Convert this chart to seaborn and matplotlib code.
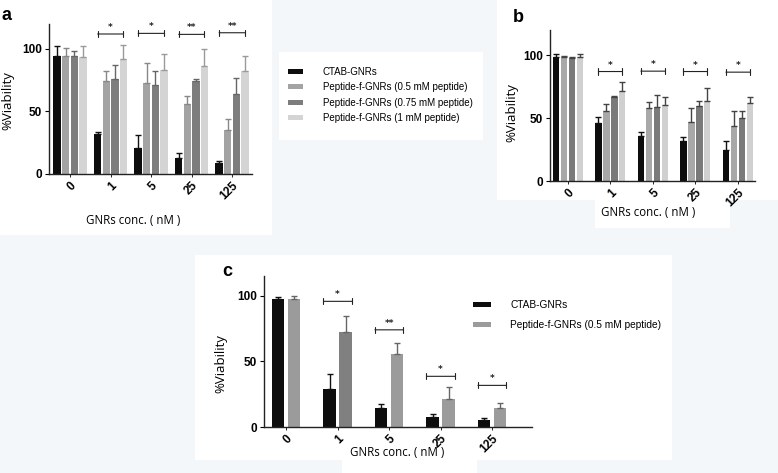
import numpy as np
import pandas as pd
import matplotlib
matplotlib.use("Agg")
import matplotlib.pyplot as plt
import seaborn as sns
from matplotlib.patches import Rectangle, Patch

# ---- data ----
conc = ["0", "1", "5", "25", "125"]
groups4 = ["CTAB-GNRs", "Peptide-f-GNRs (0.5 mM peptide)",
           "Peptide-f-GNRs (0.75 mM peptide)", "Peptide-f-GNRs (1 mM peptide)"]
groups2 = groups4[:2]

# panel a: means and upper error
a_ctab = [94, 32, 20.5, 13, 8.5]
a_ctab_err = [8.5, 1.5, 10.5, 3.5, 2.2]
a_p05 = [94, 74.7, 72.8, 55.7, 35.5]
a_p05_err = [6.5, 7.3, 16.2, 7, 8.2]
a_p075 = [94, 76.3, 71, 74.7, 63.7]
a_p075_err = [4, 11.2, 11.7, 1.6, 13.1]
a_p1 = [93.3, 91.7, 83.5, 86.7, 82.7]
a_p1_err = [8.7, 11.3, 12.8, 13, 11.3]
a_sig_y = [112, 112.5, 111.7, 113]
a_sig = ["*", "*", "**", "**"]

# panel b
b_ctab = [98.7, 45.8, 36, 32, 24.6]
b_ctab_err = [2.1, 5.2, 2.6, 3, 7.4]
b_p05 = [98.7, 55.6, 58, 46.8, 43.7]
b_p05_err = [0.6, 5.5, 4.7, 10.9, 11.9]
b_p075 = [97.9, 66.7, 59, 59.5, 50.3]
b_p075_err = [0.5, 0.5, 9.3, 4, 5.5]
b_p1 = [98.7, 71.7, 60.6, 63.8, 61.6]
b_p1_err = [2.1, 7.1, 5.8, 10, 5.4]
b_sig_y = [87, 87.3, 87, 86.5]
b_sig = ["*", "*", "*", "*"]

# panel c
c_ctab = [97.5, 29.2, 14.2, 7.4, 5.1]
c_ctab_err = [1.2, 11.4, 3.3, 2.8, 1.5]
c_p05 = [97.5, 72.6, 55.6, 21.1, 14.2]
c_p05_err = [2.5, 11.9, 8.1, 9.1, 4.1]
c_sig_y = [95.7, 74, 38.6, 31.7]
c_sig = ["*", "**", "*", "*"]

W, H = 778, 473
BG = "#f3f7fa"
fig = plt.figure(figsize=(W / 100, H / 100), dpi=100, facecolor=BG)

# white panels behind each plot (pixel boxes)
for x0, y0, x1, y1 in [(0, 0, 272, 235), (279, 52, 483, 140), (497, 0, 778, 200),
                       (595, 200, 730, 228), (195, 255, 672, 460), (342, 455, 477, 473)]:
    fig.patches.append(Rectangle((x0 / W, 1 - y1 / H), (x1 - x0) / W, (y1 - y0) / H,
                                 transform=fig.transFigure, facecolor="white",
                                 edgecolor="none", zorder=-5))

TICKFONT = "Liberation Sans"
LABFONT = "Open Sans"


def panel(rect, xlim, ylim, vals, errs, names, colors, ecolors, width, gap,
          sig_y, sig, span, ylab_xy, xlab_xy):
    left, top, bottom, ppu = rect
    wpx = (xlim[1] - xlim[0]) * ppu
    ax = fig.add_axes([left / W, 1 - bottom / H, wpx / W, (bottom - top) / H])
    ax.set_facecolor("none")
    rows = []
    for name, v in zip(names, vals):
        for c, y in zip(conc, v):
            rows.append({"conc": c, "group": name, "viability": y})
    df = pd.DataFrame(rows)
    sns.barplot(data=df, x="conc", y="viability", hue="group", order=conc,
                hue_order=names, palette=colors, width=width, gap=gap,
                errorbar=None, legend=False, saturation=1, ax=ax)
    bars = list(ax.containers)
    for cont, e, ec in zip(bars, errs, ecolors):
        xs = [b.get_x() + b.get_width() / 2 for b in cont]
        ys = [b.get_height() for b in cont]
        ax.errorbar(xs, ys, yerr=[np.zeros(len(e)), e], fmt="none", ecolor=ec,
                    elinewidth=1, capsize=2, capthick=1, zorder=1)
    # significance brackets over groups 1..125
    for j, (yy, s) in enumerate(zip(sig_y, sig), start=1):
        b0 = bars[0][j]
        b1 = bars[-1][j]
        if span == "center":
            x0 = b0.get_x() + b0.get_width() / 2
            x1 = b1.get_x() + b1.get_width() / 2
        else:
            x0 = b0.get_x()
            x1 = b1.get_x() + b1.get_width()
        ax.annotate("", xy=(x0, yy), xytext=(x1, yy),
                    arrowprops=dict(arrowstyle="|-|, widthA=0.22, widthB=0.22",
                                    lw=0.8, color="#222", shrinkA=0, shrinkB=0))
        ax.text((x0 + x1) / 2, yy + 1.5, s, ha="center", va="bottom",
                fontsize=6.5, fontweight="bold", color="#222")
    ax.set_xlim(*xlim)
    ax.set_ylim(*ylim)
    ax.set_yticks([0, 50, 100])
    ax.set_yticklabels(["0", "50", "100"], fontsize=8.5, fontweight="bold",
                       family=TICKFONT)
    ax.set_xticks(range(len(conc)))
    ax.set_xticklabels(conc, rotation=45, ha="right", rotation_mode="anchor",
                       fontsize=8.5, fontweight="bold", family=TICKFONT)
    ax.tick_params(axis="y", length=3, width=0.8, pad=2)
    ax.tick_params(axis="x", length=2, width=0.6, pad=2)
    for sp in ["top", "right"]:
        ax.spines[sp].set_visible(False)
    for sp in ["left", "bottom"]:
        ax.spines[sp].set_linewidth(1)
        ax.spines[sp].set_color("#222")
    ax.set_ylabel("%Viability", fontsize=9.5, family=LABFONT)
    ax.set_xlabel("GNRs conc. ( nM )", fontsize=8.3, family=LABFONT)
    ax.yaxis.set_label_coords(*ylab_xy)
    ax.xaxis.set_label_coords(*xlab_xy)
    return ax, bars


cols4 = ["#0d0d0d", "#a3a3a3", "#7d7d7d", "#d4d4d4"]

ax_a, _ = panel((49, 24, 174, 40.5), (-0.52, 4.5), (0, 120),
                [a_ctab, a_p05, a_p075, a_p1], [a_ctab_err, a_p05_err, a_p075_err, a_p1_err],
                groups4, cols4, ["#111", "#888", "#666", "#9a9a9a"], 0.85, 0.15,
                a_sig_y, a_sig, "center", (-0.172, 0.49), (0.414, -0.267))

ax_b, _ = panel((550, 30, 181, 42.5), (-0.42, 4.4), (0, 120),
                [b_ctab, b_p05, b_p075, b_p1], [b_ctab_err, b_p05_err, b_p075_err, b_p1_err],
                groups4, ["#0d0d0d", "#a8a8a8", "#7a7a7a", "#d0d0d0"],
                ["#111", "#444", "#444", "#444"], 0.75, 0.2,
                b_sig_y, b_sig, "center", (-0.156, 0.45), (0.48, -0.166))

ax_c, bars_c = panel((264, 276, 427, 51.5), (-0.43, 4.78), (0, 115),
                     [c_ctab, c_p05], [c_ctab_err, c_p05_err],
                     groups2, ["#0d0d0d", "#9b9b9b"], ["#111", "#666"], 0.62, 0.22,
                     c_sig_y, c_sig, "edge", (-0.138, 0.42), (0.496, -0.126))
bars_c[1][1].set_facecolor("#808080")

# legends
fig.legend(handles=[Patch(facecolor=c, edgecolor="none") for c in cols4], labels=groups4,
           loc="upper left", bbox_to_anchor=(288 / W, 1 - 67 / H), frameon=False,
           borderpad=0, borderaxespad=0, handlelength=1.55, handleheight=0.45,
           handletextpad=2.0, labelspacing=0.55,
           prop={"family": TICKFONT, "size": 7})
fig.legend(handles=[Patch(facecolor=c, edgecolor="none") for c in ["#0d0d0d", "#9b9b9b"]],
           labels=groups2, loc="upper left", bbox_to_anchor=(473 / W, 1 - 300 / H),
           frameon=False, borderpad=0, borderaxespad=0, handlelength=1.75,
           handleheight=0.5, handletextpad=1.9, labelspacing=1.0,
           prop={"family": TICKFONT, "size": 7.3})

# panel letters
for txt, x, y in [("a", 2, 20), ("b", 513, 22), ("c", 222, 276)]:
    fig.text(x / W, 1 - y / H, txt, fontsize=13, fontweight="bold",
             family=TICKFONT, va="baseline")

fig.savefig("out.png", dpi=100, facecolor=BG)
